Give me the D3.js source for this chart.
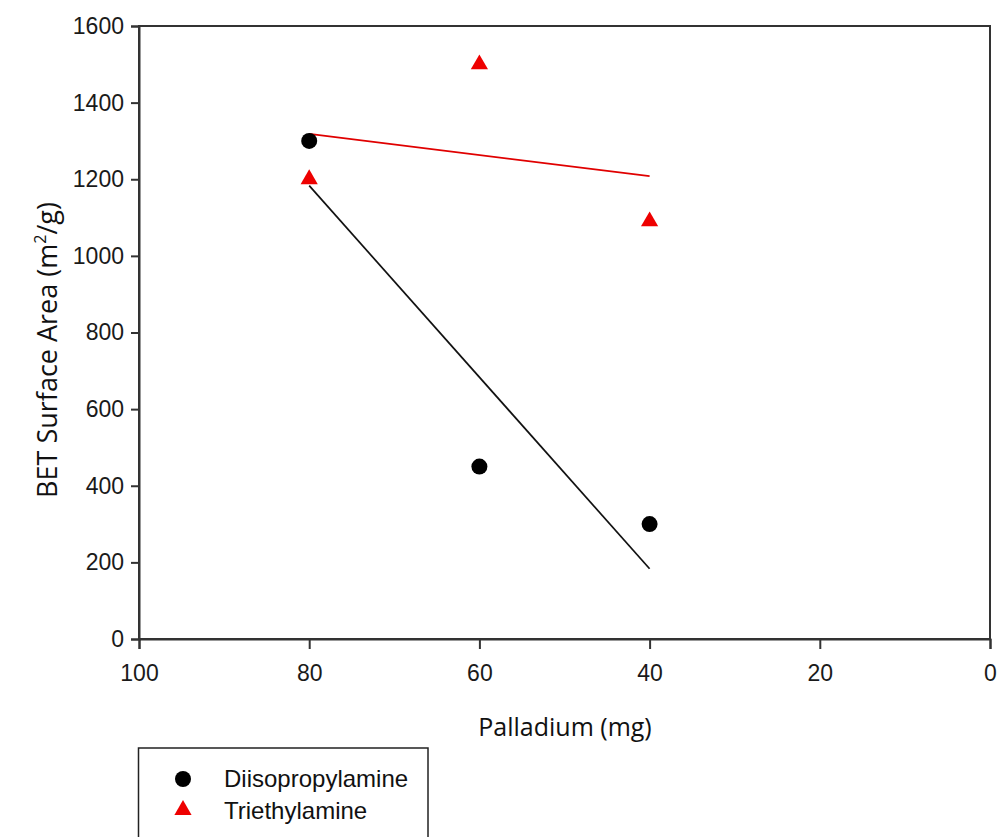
<!DOCTYPE html>
<html><head><meta charset="utf-8">
<script src="https://cdn.jsdelivr.net/npm/d3@7"></script>
<style>html,body{margin:0;padding:0;background:#fff;overflow:hidden}</style>
</head><body>
<svg id="c" width="1000" height="837"></svg>
<script>
const palladium = [80, 60, 40];
const diisopropylamine = [1300, 450, 300];
const triethylamine = [1200, 1500, 1090];
const xTicks = [100, 80, 60, 40, 20, 0];
const yTicks = [0, 200, 400, 600, 800, 1000, 1200, 1400, 1600];
const seriesNames = ["Diisopropylamine", "Triethylamine"];

const svg = d3.select("#c");
const L = 139, R = 990, T = 26, B = 639;
const x = d3.scaleLinear().domain([100, 0]).range([L, R]);
const y = d3.scaleLinear().domain([0, 1600]).range([B, T]);
const axisColor = "#333";
const tickFont = "'Liberation Sans', Arial, sans-serif";

function fit(xs, ys) {
  const mx = d3.mean(xs), my = d3.mean(ys);
  const s = d3.sum(xs, (v, i) => (v - mx) * (ys[i] - my)) / d3.sum(xs, v => (v - mx) ** 2);
  const lo = d3.min(xs), hi = d3.max(xs);
  return [[hi, my + s * (hi - mx)], [lo, my + s * (lo - mx)]];
}

// frame
svg.append("rect").attr("x", L).attr("y", T).attr("width", R - L).attr("height", B - T)
  .attr("fill", "none").attr("stroke", axisColor).attr("stroke-width", 2);

const xAxis = svg.append("g").attr("transform", `translate(0,${B})`)
  .call(d3.axisBottom(x).tickValues(xTicks).tickSize(10).tickPadding(16).tickFormat(d3.format("d")));
const yAxis = svg.append("g").attr("transform", `translate(${L},0)`)
  .call(d3.axisLeft(y).tickValues(yTicks).tickSize(8).tickPadding(7).tickFormat(d3.format("d")));
[xAxis, yAxis].forEach(g => {
  g.select(".domain").attr("stroke", axisColor).attr("stroke-width", 2);
  g.selectAll(".tick line").attr("stroke", axisColor).attr("stroke-width", 2);
  g.selectAll(".tick text").attr("fill", "#1a1a1a").style("font-family", tickFont).style("font-size", "23px");
});

// fit lines
const line = d3.line().x(d => x(d[0])).y(d => y(d[1]));
svg.append("path").attr("d", line(fit(palladium, diisopropylamine)))
  .attr("stroke", "#111").attr("stroke-width", 1.7).attr("fill", "none");
svg.append("path").attr("d", line(fit(palladium, triethylamine)))
  .attr("stroke", "#e00000").attr("stroke-width", 1.7).attr("fill", "none");

// points
svg.selectAll(".dip").data(palladium).enter().append("circle")
  .attr("cx", d => x(d)).attr("cy", (d, i) => y(diisopropylamine[i])).attr("r", 8).attr("fill", "#000");
const tri = d3.symbol().type(d3.symbolTriangle).size(128);
svg.selectAll(".tea").data(palladium).enter().append("path")
  .attr("d", tri).attr("transform", (d, i) => `translate(${x(d)},${y(triethylamine[i])})`)
  .attr("fill", "#ee0000");

// axis titles
const titleFont = "'Open Sans', 'Noto Sans', sans-serif";
svg.append("text").attr("x", 565).attr("y", 736).attr("text-anchor", "middle")
  .style("font-family", titleFont).style("font-size", "25px").attr("fill", "#111").text("Palladium (mg)");
const yt = svg.append("text").attr("transform", "translate(57,350) rotate(-90)").attr("text-anchor", "middle")
  .style("font-family", titleFont).style("font-size", "27px").attr("fill", "#111");
yt.append("tspan").text("BET Surface Area (m");
yt.append("tspan").attr("dy", -11).style("font-size", "16px").text("2");
yt.append("tspan").attr("dy", 11).text("/g)");

// legend
svg.append("rect").attr("x", 138.5).attr("y", 748).attr("width", 289.5).attr("height", 110)
  .attr("fill", "none").attr("stroke", "#222").attr("stroke-width", 1.5);
const lg = svg.append("g");
lg.append("circle").attr("cx", 183).attr("cy", 779).attr("r", 8).attr("fill", "#000");
lg.append("path").attr("d", tri).attr("transform", "translate(183,810)").attr("fill", "#ee0000");
seriesNames.forEach((n, i) => {
  lg.append("text").attr("x", 224).attr("y", 787 + i * 32).style("font-family", tickFont)
    .style("font-size", "24px").attr("fill", "#111").text(n);
});
</script>
</body></html>
